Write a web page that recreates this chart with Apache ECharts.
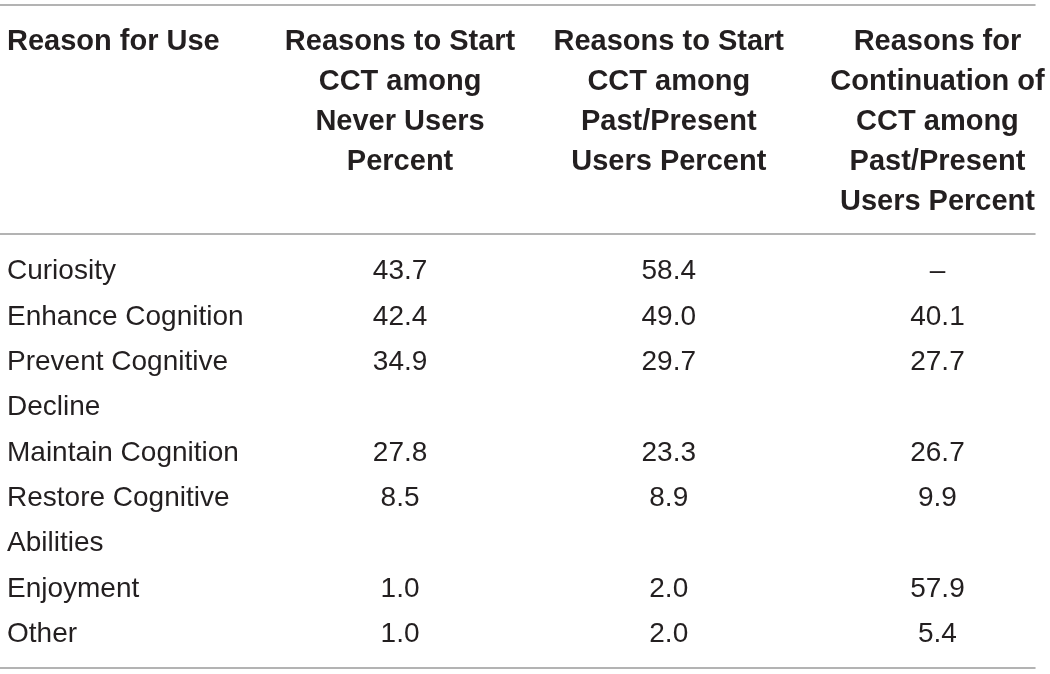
<!DOCTYPE html>
<html>
<head>
<meta charset="utf-8">
<script src="https://cdn.jsdelivr.net/npm/echarts@6/dist/echarts.min.js"></script>
<style>
html, body { margin: 0; padding: 0; background: #fff; }
#main { width: 1050px; height: 674px; }
</style>
</head>
<body>
<div id="main"></div>
<script>
var firstHeader = 'Reason for Use';
var headers = [
    'Reasons to Start\nCCT among\nNever Users\nPercent',
    'Reasons to Start\nCCT among\nPast/Present\nUsers Percent',
    'Reasons for\nContinuation of\nCCT among\nPast/Present\nUsers Percent'
];
var reasons = ['Curiosity', 'Enhance Cognition', 'Prevent Cognitive\nDecline', 'Maintain Cognition',
    'Restore Cognitive\nAbilities', 'Enjoyment', 'Other'];
var neverStart = [43.7, 42.4, 34.9, 27.8, 8.5, 1.0, 1.0];
var pastStart = [58.4, 49.0, 29.7, 23.3, 8.9, 2.0, 2.0];
var pastContinue = [null, 40.1, 27.7, 26.7, 9.9, 57.9, 5.4];
var columns = [neverStart, pastStart, pastContinue];

var textColor = '#231f20';
var ruleStyle = { color: '#9a9a9a', width: 1.5 };
var font = 'Liberation Sans';

// every text line of the first column gets its own slot on the y axis
var lines = [];
var rowSlot = [];
reasons.forEach(function (r) {
    rowSlot.push(lines.length);
    r.split('\n').forEach(function (l) { lines.push(l); });
});

var myChart = echarts.init(document.getElementById('main'));

function ruleAxis(position, offset) {
    return {
        type: 'value',
        position: position,
        offset: offset,
        min: -0.5,
        max: 3.363,
        axisLine: { show: true, lineStyle: ruleStyle },
        axisTick: { show: false },
        axisLabel: { show: false },
        splitLine: { show: false }
    };
}

// header rule, carrying the column headings as its labels
var headerAxis = ruleAxis('top', 15);
headerAxis.interval = 0.5;
headerAxis.axisLabel = {
    show: true,
    margin: 212,
    verticalAlign: 'top',
    align: 'center',
    lineHeight: 40,
    fontSize: 29,
    fontWeight: 'bold',
    fontFamily: font,
    color: textColor,
    formatter: function (v) {
        var k = Math.round(v);
        if (Math.abs(v - k) > 1e-6 || k < 1 || k > headers.length) return '';
        return headers[k - 1];
    }
};

var option = {
    animation: false,
    title: {
        text: firstHeader,
        left: 7,
        top: 22,
        padding: 0,
        textStyle: {
            fontSize: 29,
            fontWeight: 'bold',
            fontFamily: font,
            color: textColor,
            lineHeight: 40
        }
    },
    grid: { left: -3, right: 15, top: 249, bottom: 17, outerBoundsMode: 'none', containLabel: false },
    xAxis: [ruleAxis('bottom', 11), headerAxis, ruleAxis('top', 244)],
    yAxis: {
        type: 'category',
        inverse: true,
        data: lines,
        axisLine: { show: false },
        axisTick: { show: false },
        splitLine: { show: false },
        axisLabel: {
            inside: true,
            margin: 10,
            fontSize: 28,
            fontFamily: font,
            color: textColor
        }
    },
    series: columns.map(function (col, j) {
        return {
            type: 'scatter',
            xAxisIndex: 0,
            symbolSize: 0,
            silent: true,
            itemStyle: { opacity: 1 },
            data: col.map(function (v, i) { return [j + 1, rowSlot[i], v]; }),
            label: {
                show: true,
                position: 'inside',
                fontSize: 28,
                fontFamily: font,
                color: textColor,
                formatter: function (p) {
                    var v = p.value[2];
                    return v == null ? '\u2013' : v.toFixed(1);
                }
            }
        };
    })
};

myChart.setOption(option);
</script>
</body>
</html>
